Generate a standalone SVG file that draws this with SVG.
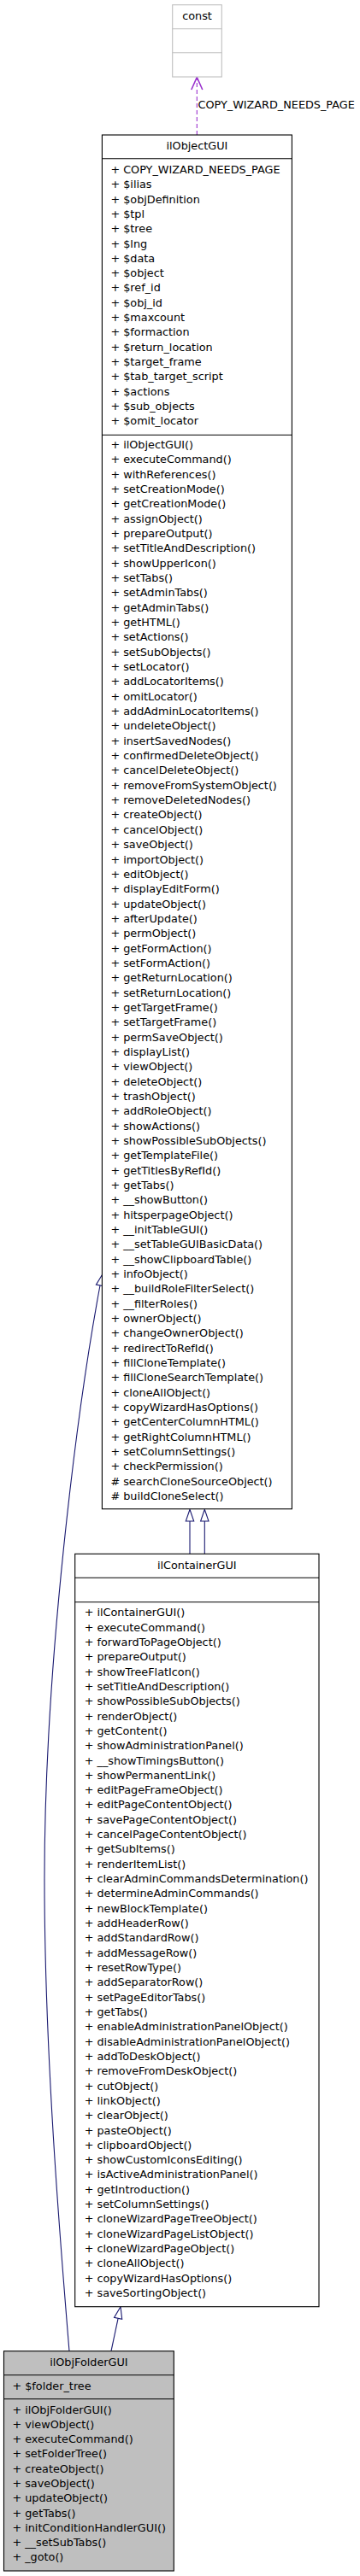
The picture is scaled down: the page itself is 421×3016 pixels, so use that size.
<svg xmlns="http://www.w3.org/2000/svg" width="421" height="3016" viewBox="0 0 421 3016">
<style>
text{font-family:"DejaVu Sans","Liberation Sans",sans-serif;font-size:12.8px;fill:#000}
.c{text-anchor:middle}
.box{fill:#fff;stroke:#000;stroke-width:1.1}
.gbox{fill:#fff;stroke:#bfbfbf;stroke-width:1.1}
.cur{fill:#bfbfbf;stroke:#000;stroke-width:1.1}
.inh{fill:none;stroke:#191970;stroke-width:1.1}
.inhh{fill:#fff;stroke:#191970;stroke-width:1.1}
.use{fill:none;stroke:#9a32cd;stroke-width:1.1;stroke-dasharray:5,3}
.useh{fill:none;stroke:#9a32cd;stroke-width:1.6}
</style>
<rect width="421" height="3016" fill="#fff"/>
<g id="connectors">
<line class="use" x1="230.3" y1="158" x2="230.3" y2="92"/>
<polyline class="useh" points="223.8,105 230.3,90.5 236.8,105"/>
<text x="231.5" y="126.7">COPY_WIZARD_NEEDS_PAGE</text>
<line class="inh" x1="222" y1="1819.3" x2="222" y2="1781"/>
<polygon class="inhh" points="222,1767.3 217.3,1781 226.7,1781"/>
<line class="inh" x1="239.3" y1="1819.3" x2="239.3" y2="1781"/>
<polygon class="inhh" points="239.3,1767.3 234.6,1781 244,1781"/>
<line class="inh" x1="130" y1="2752.7" x2="138.1" y2="2714.4"/>
<polygon class="inhh" points="141,2700.7 133.5,2713.4 142.7,2715.4"/>
<path class="inh" d="M81,2752.7 C70,2620 52,2400 52,2200 C52,1950 90,1650 117,1505"/>
<polygon class="inhh" points="119.3,1492.7 112.4,1504.1 121.6,1505.9"/>
</g>
<g id="const">
<rect class="gbox" x="201.7" y="5.7" width="57.6" height="84.3"/>
<line class="gbox" x1="201.7" y1="33.7" x2="259.3" y2="33.7"/>
<line class="gbox" x1="201.7" y1="61.7" x2="259.3" y2="61.7"/>
<text class="c" x="230.5" y="23.3">const</text>
</g>
<g id="ilObjectGUI">
<rect class="box" x="119.4" y="158" width="222" height="1608.7"/>
<line class="box" x1="119.4" y1="185.7" x2="341.4" y2="185.7"/>
<line class="box" x1="119.4" y1="509.3" x2="341.4" y2="509.3"/>
<text class="c" x="230.4" y="175.3">ilObjectGUI</text>
<text x="129.4" y="203">
<tspan x="129.4" dy="0">+ COPY_WIZARD_NEEDS_PAGE</tspan>
<tspan x="129.4" dy="17.31">+ $ilias</tspan>
<tspan x="129.4" dy="17.31">+ $objDefinition</tspan>
<tspan x="129.4" dy="17.31">+ $tpl</tspan>
<tspan x="129.4" dy="17.31">+ $tree</tspan>
<tspan x="129.4" dy="17.31">+ $lng</tspan>
<tspan x="129.4" dy="17.31">+ $data</tspan>
<tspan x="129.4" dy="17.31">+ $object</tspan>
<tspan x="129.4" dy="17.31">+ $ref_id</tspan>
<tspan x="129.4" dy="17.31">+ $obj_id</tspan>
<tspan x="129.4" dy="17.31">+ $maxcount</tspan>
<tspan x="129.4" dy="17.31">+ $formaction</tspan>
<tspan x="129.4" dy="17.31">+ $return_location</tspan>
<tspan x="129.4" dy="17.31">+ $target_frame</tspan>
<tspan x="129.4" dy="17.31">+ $tab_target_script</tspan>
<tspan x="129.4" dy="17.31">+ $actions</tspan>
<tspan x="129.4" dy="17.31">+ $sub_objects</tspan>
<tspan x="129.4" dy="17.31">+ $omit_locator</tspan>
</text>
<text x="129.4" y="525">
<tspan x="129.4" dy="0">+ ilObjectGUI()</tspan>
<tspan x="129.4" dy="17.34">+ executeCommand()</tspan>
<tspan x="129.4" dy="17.34">+ withReferences()</tspan>
<tspan x="129.4" dy="17.34">+ setCreationMode()</tspan>
<tspan x="129.4" dy="17.34">+ getCreationMode()</tspan>
<tspan x="129.4" dy="17.34">+ assignObject()</tspan>
<tspan x="129.4" dy="17.34">+ prepareOutput()</tspan>
<tspan x="129.4" dy="17.34">+ setTitleAndDescription()</tspan>
<tspan x="129.4" dy="17.34">+ showUpperIcon()</tspan>
<tspan x="129.4" dy="17.34">+ setTabs()</tspan>
<tspan x="129.4" dy="17.34">+ setAdminTabs()</tspan>
<tspan x="129.4" dy="17.34">+ getAdminTabs()</tspan>
<tspan x="129.4" dy="17.34">+ getHTML()</tspan>
<tspan x="129.4" dy="17.34">+ setActions()</tspan>
<tspan x="129.4" dy="17.34">+ setSubObjects()</tspan>
<tspan x="129.4" dy="17.34">+ setLocator()</tspan>
<tspan x="129.4" dy="17.34">+ addLocatorItems()</tspan>
<tspan x="129.4" dy="17.34">+ omitLocator()</tspan>
<tspan x="129.4" dy="17.34">+ addAdminLocatorItems()</tspan>
<tspan x="129.4" dy="17.34">+ undeleteObject()</tspan>
<tspan x="129.4" dy="17.34">+ insertSavedNodes()</tspan>
<tspan x="129.4" dy="17.34">+ confirmedDeleteObject()</tspan>
<tspan x="129.4" dy="17.34">+ cancelDeleteObject()</tspan>
<tspan x="129.4" dy="17.34">+ removeFromSystemObject()</tspan>
<tspan x="129.4" dy="17.34">+ removeDeletedNodes()</tspan>
<tspan x="129.4" dy="17.34">+ createObject()</tspan>
<tspan x="129.4" dy="17.34">+ cancelObject()</tspan>
<tspan x="129.4" dy="17.34">+ saveObject()</tspan>
<tspan x="129.4" dy="17.34">+ importObject()</tspan>
<tspan x="129.4" dy="17.34">+ editObject()</tspan>
<tspan x="129.4" dy="17.34">+ displayEditForm()</tspan>
<tspan x="129.4" dy="17.34">+ updateObject()</tspan>
<tspan x="129.4" dy="17.34">+ afterUpdate()</tspan>
<tspan x="129.4" dy="17.34">+ permObject()</tspan>
<tspan x="129.4" dy="17.34">+ getFormAction()</tspan>
<tspan x="129.4" dy="17.34">+ setFormAction()</tspan>
<tspan x="129.4" dy="17.34">+ getReturnLocation()</tspan>
<tspan x="129.4" dy="17.34">+ setReturnLocation()</tspan>
<tspan x="129.4" dy="17.34">+ getTargetFrame()</tspan>
<tspan x="129.4" dy="17.34">+ setTargetFrame()</tspan>
<tspan x="129.4" dy="17.34">+ permSaveObject()</tspan>
<tspan x="129.4" dy="17.34">+ displayList()</tspan>
<tspan x="129.4" dy="17.34">+ viewObject()</tspan>
<tspan x="129.4" dy="17.34">+ deleteObject()</tspan>
<tspan x="129.4" dy="17.34">+ trashObject()</tspan>
<tspan x="129.4" dy="17.34">+ addRoleObject()</tspan>
<tspan x="129.4" dy="17.34">+ showActions()</tspan>
<tspan x="129.4" dy="17.34">+ showPossibleSubObjects()</tspan>
<tspan x="129.4" dy="17.34">+ getTemplateFile()</tspan>
<tspan x="129.4" dy="17.34">+ getTitlesByRefId()</tspan>
<tspan x="129.4" dy="17.34">+ getTabs()</tspan>
<tspan x="129.4" dy="17.34">+ __showButton()</tspan>
<tspan x="129.4" dy="17.34">+ hitsperpageObject()</tspan>
<tspan x="129.4" dy="17.34">+ __initTableGUI()</tspan>
<tspan x="129.4" dy="17.34">+ __setTableGUIBasicData()</tspan>
<tspan x="129.4" dy="17.34">+ __showClipboardTable()</tspan>
<tspan x="129.4" dy="17.34">+ infoObject()</tspan>
<tspan x="129.4" dy="17.34">+ __buildRoleFilterSelect()</tspan>
<tspan x="129.4" dy="17.34">+ __filterRoles()</tspan>
<tspan x="129.4" dy="17.34">+ ownerObject()</tspan>
<tspan x="129.4" dy="17.34">+ changeOwnerObject()</tspan>
<tspan x="129.4" dy="17.34">+ redirectToRefId()</tspan>
<tspan x="129.4" dy="17.34">+ fillCloneTemplate()</tspan>
<tspan x="129.4" dy="17.34">+ fillCloneSearchTemplate()</tspan>
<tspan x="129.4" dy="17.34">+ cloneAllObject()</tspan>
<tspan x="129.4" dy="17.34">+ copyWizardHasOptions()</tspan>
<tspan x="129.4" dy="17.34">+ getCenterColumnHTML()</tspan>
<tspan x="129.4" dy="17.34">+ getRightColumnHTML()</tspan>
<tspan x="129.4" dy="17.34">+ setColumnSettings()</tspan>
<tspan x="129.4" dy="17.34">+ checkPermission()</tspan>
<tspan x="129.4" dy="17.34"># searchCloneSourceObject()</tspan>
<tspan x="129.4" dy="17.34"># buildCloneSelect()</tspan>
</text>
</g>
<g id="ilContainerGUI">
<rect class="box" x="87.7" y="1819.3" width="285.3" height="881.4"/>
<line class="box" x1="87.7" y1="1847.3" x2="373" y2="1847.3"/>
<line class="box" x1="87.7" y1="1875.7" x2="373" y2="1875.7"/>
<text class="c" x="230.3" y="1837">ilContainerGUI</text>
<text x="98.7" y="1892.3">
<tspan x="98.7" dy="0">+ ilContainerGUI()</tspan>
<tspan x="98.7" dy="17.32">+ executeCommand()</tspan>
<tspan x="98.7" dy="17.32">+ forwardToPageObject()</tspan>
<tspan x="98.7" dy="17.32">+ prepareOutput()</tspan>
<tspan x="98.7" dy="17.32">+ showTreeFlatIcon()</tspan>
<tspan x="98.7" dy="17.32">+ setTitleAndDescription()</tspan>
<tspan x="98.7" dy="17.32">+ showPossibleSubObjects()</tspan>
<tspan x="98.7" dy="17.32">+ renderObject()</tspan>
<tspan x="98.7" dy="17.32">+ getContent()</tspan>
<tspan x="98.7" dy="17.32">+ showAdministrationPanel()</tspan>
<tspan x="98.7" dy="17.32">+ __showTimingsButton()</tspan>
<tspan x="98.7" dy="17.32">+ showPermanentLink()</tspan>
<tspan x="98.7" dy="17.32">+ editPageFrameObject()</tspan>
<tspan x="98.7" dy="17.32">+ editPageContentObject()</tspan>
<tspan x="98.7" dy="17.32">+ savePageContentObject()</tspan>
<tspan x="98.7" dy="17.32">+ cancelPageContentObject()</tspan>
<tspan x="98.7" dy="17.32">+ getSubItems()</tspan>
<tspan x="98.7" dy="17.32">+ renderItemList()</tspan>
<tspan x="98.7" dy="17.32">+ clearAdminCommandsDetermination()</tspan>
<tspan x="98.7" dy="17.32">+ determineAdminCommands()</tspan>
<tspan x="98.7" dy="17.32">+ newBlockTemplate()</tspan>
<tspan x="98.7" dy="17.32">+ addHeaderRow()</tspan>
<tspan x="98.7" dy="17.32">+ addStandardRow()</tspan>
<tspan x="98.7" dy="17.32">+ addMessageRow()</tspan>
<tspan x="98.7" dy="17.32">+ resetRowType()</tspan>
<tspan x="98.7" dy="17.32">+ addSeparatorRow()</tspan>
<tspan x="98.7" dy="17.32">+ setPageEditorTabs()</tspan>
<tspan x="98.7" dy="17.32">+ getTabs()</tspan>
<tspan x="98.7" dy="17.32">+ enableAdministrationPanelObject()</tspan>
<tspan x="98.7" dy="17.32">+ disableAdministrationPanelObject()</tspan>
<tspan x="98.7" dy="17.32">+ addToDeskObject()</tspan>
<tspan x="98.7" dy="17.32">+ removeFromDeskObject()</tspan>
<tspan x="98.7" dy="17.32">+ cutObject()</tspan>
<tspan x="98.7" dy="17.32">+ linkObject()</tspan>
<tspan x="98.7" dy="17.32">+ clearObject()</tspan>
<tspan x="98.7" dy="17.32">+ pasteObject()</tspan>
<tspan x="98.7" dy="17.32">+ clipboardObject()</tspan>
<tspan x="98.7" dy="17.32">+ showCustomIconsEditing()</tspan>
<tspan x="98.7" dy="17.32">+ isActiveAdministrationPanel()</tspan>
<tspan x="98.7" dy="17.32">+ getIntroduction()</tspan>
<tspan x="98.7" dy="17.32">+ setColumnSettings()</tspan>
<tspan x="98.7" dy="17.32">+ cloneWizardPageTreeObject()</tspan>
<tspan x="98.7" dy="17.32">+ cloneWizardPageListObject()</tspan>
<tspan x="98.7" dy="17.32">+ cloneWizardPageObject()</tspan>
<tspan x="98.7" dy="17.32">+ cloneAllObject()</tspan>
<tspan x="98.7" dy="17.32">+ copyWizardHasOptions()</tspan>
<tspan x="98.7" dy="17.32">+ saveSortingObject()</tspan>
</text>
</g>
<g id="ilObjFolderGUI">
<rect class="cur" x="4.5" y="2752.7" width="198.8" height="257.3"/>
<line class="cur" x1="4.5" y1="2780.7" x2="203.3" y2="2780.7"/>
<line class="cur" x1="4.5" y1="2808.7" x2="203.3" y2="2808.7"/>
<text class="c" x="103.9" y="2770.3">ilObjFolderGUI</text>
<text x="14.4" y="2798">+ $folder_tree</text>
<text x="14.4" y="2825.7">
<tspan x="14.4" dy="0">+ ilObjFolderGUI()</tspan>
<tspan x="14.4" dy="17.26">+ viewObject()</tspan>
<tspan x="14.4" dy="17.26">+ executeCommand()</tspan>
<tspan x="14.4" dy="17.26">+ setFolderTree()</tspan>
<tspan x="14.4" dy="17.26">+ createObject()</tspan>
<tspan x="14.4" dy="17.26">+ saveObject()</tspan>
<tspan x="14.4" dy="17.26">+ updateObject()</tspan>
<tspan x="14.4" dy="17.26">+ getTabs()</tspan>
<tspan x="14.4" dy="17.26">+ initConditionHandlerGUI()</tspan>
<tspan x="14.4" dy="17.26">+ __setSubTabs()</tspan>
<tspan x="14.4" dy="17.26">+ _goto()</tspan>
</text>
</g>
</svg>
